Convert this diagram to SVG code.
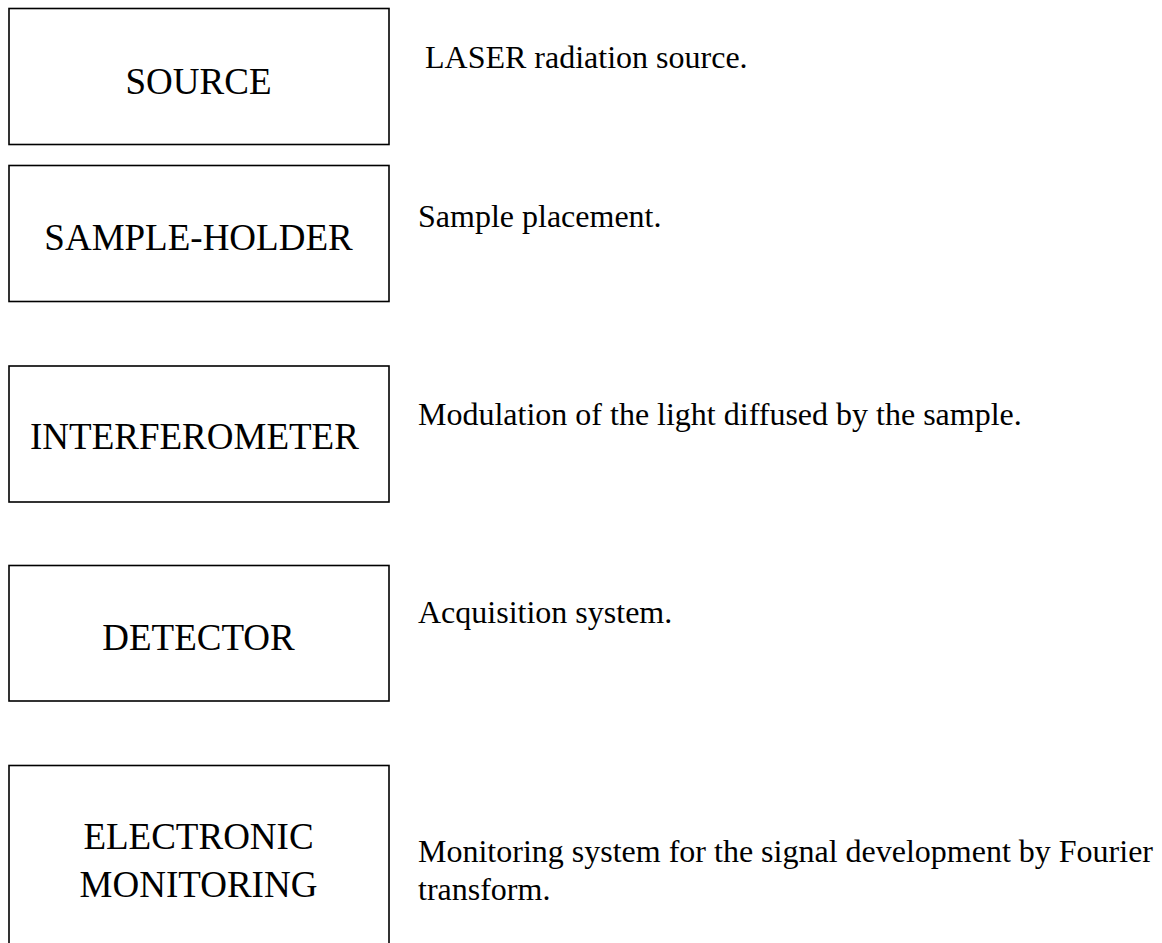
<svg xmlns="http://www.w3.org/2000/svg" width="1162" height="943" viewBox="0 0 1162 943">
  <style>
    .box { fill: #ffffff; stroke: #000000; stroke-width: 1.6; }
    .label { font-family: "Liberation Serif", "Times New Roman", serif; font-size: 37px; fill: #000000; }
    .desc { font-family: "Liberation Serif", "Times New Roman", serif; font-size: 32px; fill: #000000; }
    .mid { text-anchor: middle; }
  </style>
  <rect width="1162" height="943" fill="#ffffff"/>

  <!-- processing stages, one box per stage with its description alongside -->
  <g id="source">
    <rect class="box" x="9" y="8.5" width="380" height="136"/>
    <text class="label mid" x="198.5" y="94">SOURCE</text>
    <text class="desc" x="425" y="68">LASER radiation source.</text>
  </g>

  <g id="sample-holder">
    <rect class="box" x="9" y="165.5" width="380" height="136"/>
    <text class="label mid" x="198.5" y="250">SAMPLE-HOLDER</text>
    <text class="desc" x="418" y="227">Sample placement.</text>
  </g>

  <g id="interferometer">
    <rect class="box" x="9" y="366" width="380" height="136"/>
    <text class="label" x="30" y="449">INTERFEROMETER</text>
    <text class="desc" x="418" y="425">Modulation of the light diffused by the sample.</text>
  </g>

  <g id="detector">
    <rect class="box" x="9" y="565.5" width="380" height="135.5"/>
    <text class="label mid" x="198.5" y="650">DETECTOR</text>
    <text class="desc" x="418" y="623">Acquisition system.</text>
  </g>

  <g id="electronic-monitoring">
    <rect class="box" x="9" y="765.5" width="380" height="200"/>
    <text class="label mid" x="198.5" y="848.5">ELECTRONIC</text>
    <text class="label mid" x="198.5" y="896.5">MONITORING</text>
    <text class="desc" x="418" y="862">Monitoring system for the signal development by Fourier</text>
    <text class="desc" x="418" y="900">transform.</text>
  </g>

  <!-- no connectors between the stages -->
  <g id="connectors"/>
</svg>
